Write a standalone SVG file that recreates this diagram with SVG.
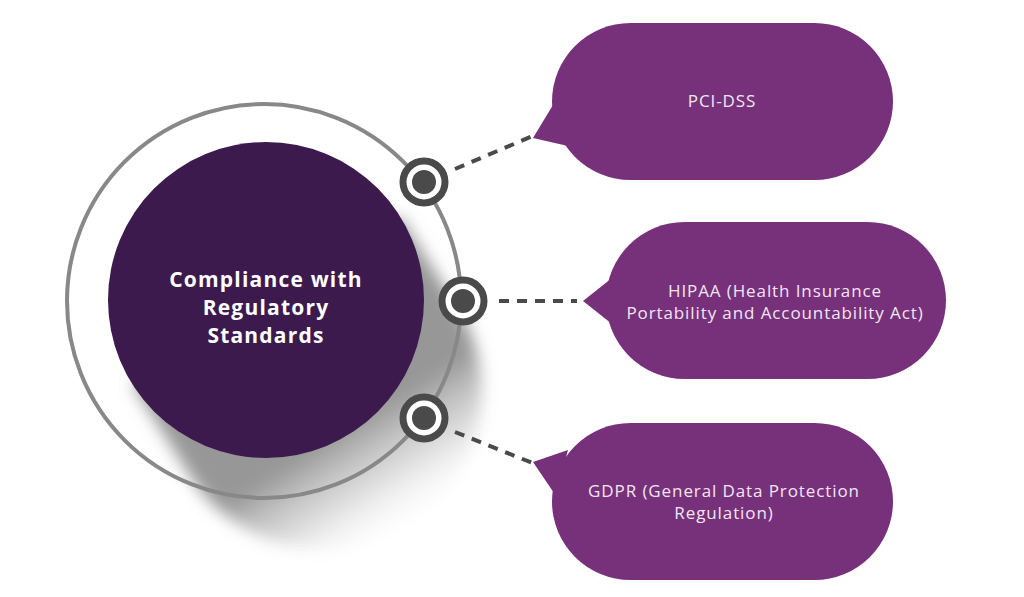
<svg xmlns="http://www.w3.org/2000/svg" width="1024" height="597" viewBox="0 0 1024 597">
<defs>
<style>
.bubble{fill:#77307A}
.btxt{font-family:"Open Sans","Noto Sans",sans-serif;font-size:17px;letter-spacing:0.9px;fill:#F3E6F3;text-anchor:middle}
.ttl{font-family:"Open Sans","Noto Sans",sans-serif;font-size:21px;font-weight:bold;letter-spacing:1.2px;fill:#FFFFFF;text-anchor:middle}
.dash{stroke:#4A4A4A;stroke-width:4;stroke-dasharray:10 8;fill:none}
.ring{fill:#FFFFFF;stroke:#4A4A4A;stroke-width:7}
.dot{fill:#4A4A4A}
</style>
<linearGradient id="sg" gradientUnits="userSpaceOnUse" x1="346" y1="427" x2="412" y2="532">
<stop offset="0" stop-color="#858585" stop-opacity="0.85"/>
<stop offset="0.5" stop-color="#BBBBBB" stop-opacity="0.5"/>
<stop offset="1" stop-color="#FFFFFF" stop-opacity="0"/>
</linearGradient>
<filter id="blur" x="-30%" y="-30%" width="160%" height="160%">
<feGaussianBlur stdDeviation="8"/>
</filter>
</defs>
<rect width="1024" height="597" fill="#FFFFFF"/>

<g id="center">
<path d="M399.5 215.6 L459.5 310.6 A158 158 0 0 1 192.5 479.4 L132.5 384.4 Z" fill="url(#sg)" filter="url(#blur)"/>
<circle cx="264" cy="301" r="197" fill="none" stroke="#888888" stroke-width="4"/>
<circle cx="266" cy="300" r="158" fill="#3C1A4E"/>
<text class="ttl"><tspan x="266" y="287">Compliance with</tspan><tspan x="266" y="315">Regulatory</tspan><tspan x="266" y="343">Standards</tspan></text>
</g>

<g id="connectors">
<line class="dash" x1="455" y1="169" x2="535" y2="135"/>
<line class="dash" x1="499" y1="301" x2="577" y2="301"/>
<line class="dash" x1="455" y1="432" x2="535" y2="464"/>
</g>

<g id="dots">
<g id="dot1"><circle class="ring" cx="424" cy="182" r="21"/><circle class="dot" cx="424" cy="182" r="12"/></g>
<g id="dot2"><circle class="ring" cx="463" cy="301" r="21"/><circle class="dot" cx="463" cy="301" r="12"/></g>
<g id="dot3"><circle class="ring" cx="424" cy="418" r="21"/><circle class="dot" cx="424" cy="418" r="12"/></g>
</g>

<g id="pci">
<rect class="bubble" x="552" y="23" width="341" height="157" rx="78.5"/>
<path class="bubble" d="M556 100 L533 138 L568 146 Z"/>
<text class="btxt" x="722" y="107">PCI-DSS</text>
</g>

<g id="hipaa">
<rect class="bubble" x="606" y="222" width="340" height="157" rx="78.5"/>
<path class="bubble" d="M612 278 L583 301 L612 324 Z"/>
<text class="btxt"><tspan x="775" y="297">HIPAA (Health Insurance</tspan><tspan x="775" y="319">Portability and Accountability Act)</tspan></text>
</g>

<g id="gdpr">
<rect class="bubble" x="552" y="423" width="341" height="157" rx="78.5"/>
<path class="bubble" d="M568 450 L533 462 L556 496 Z"/>
<text class="btxt"><tspan x="724" y="497">GDPR (General Data Protection</tspan><tspan x="724" y="519">Regulation)</tspan></text>
</g>
</svg>
